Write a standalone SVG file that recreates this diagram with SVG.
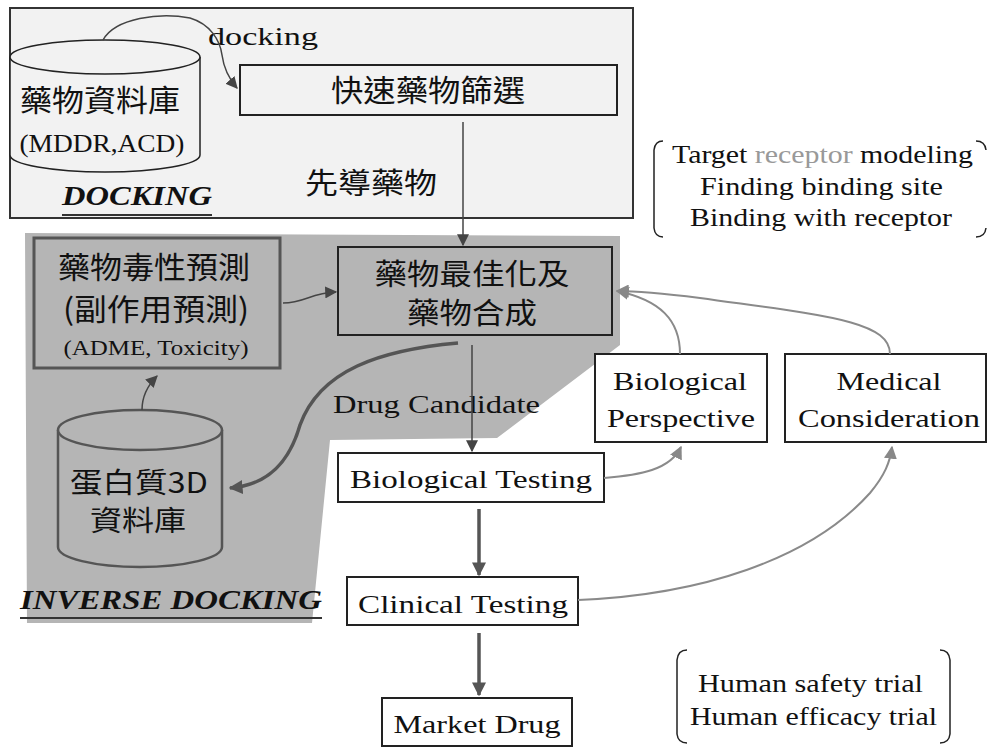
<svg xmlns="http://www.w3.org/2000/svg" width="988" height="747" viewBox="0 0 988 747">
<defs>
<marker id="aDark" viewBox="0 0 10 10" refX="9" refY="5" markerWidth="12" markerHeight="12" markerUnits="userSpaceOnUse" orient="auto"><path d="M0,0 L10,5 L0,10 z" fill="#444"/></marker>
<marker id="aGray" viewBox="0 0 10 10" refX="9" refY="5" markerWidth="13" markerHeight="13" markerUnits="userSpaceOnUse" orient="auto"><path d="M0,0 L10,5 L0,10 z" fill="#888"/></marker>
<marker id="aThick" viewBox="0 0 10 10" refX="9" refY="5" markerWidth="14" markerHeight="14" markerUnits="userSpaceOnUse" orient="auto"><path d="M0,0 L10,5 L0,10 z" fill="#555"/></marker>
<style>
.lat{font-family:"Liberation Serif","Noto Serif CJK TC",serif;fill:#111}
.cjk{font-family:"Noto Sans CJK TC","Noto Sans CJK SC",sans-serif;fill:#111}
.box{fill:#fff;stroke:#222;stroke-width:2}
.ttl{font-family:"Liberation Serif",serif;font-weight:bold;font-style:italic;fill:#111}
.dk{fill:none;stroke:#444;stroke-width:1.5}
.gr{fill:none;stroke:#8a8a8a;stroke-width:2}
.th{fill:none;stroke:#555;stroke-width:3.5}
</style>
</defs>
<rect width="988" height="747" fill="#fff"/>

<g id="docking-region">
<rect x="10" y="8" width="623" height="210" fill="#f2f2f2" stroke="#333" stroke-width="2"/>
<text class="ttl" x="62" y="205" font-size="27" textLength="150" lengthAdjust="spacingAndGlyphs">DOCKING</text>
<line x1="62" y1="215" x2="212" y2="215" stroke="#333" stroke-width="2"/>
</g>

<g id="inverse-region">
<polygon points="25,233 620,236 620,345 497,438 330,440 312,623 27,623" fill="#b5b5b5"/>
<text class="ttl" x="20" y="609" font-size="27" textLength="302" lengthAdjust="spacingAndGlyphs">INVERSE DOCKING</text>
<line x1="20" y1="618" x2="322" y2="618" stroke="#333" stroke-width="2"/>
</g>

<g id="drug-db">
<path d="M10,57 L10,155 A95,17 0 0 0 200,155 L200,57" fill="#f2f2f2" stroke="#222" stroke-width="1.5"/>
<ellipse cx="105" cy="57" rx="95" ry="17" fill="#f2f2f2" stroke="#222" stroke-width="1.5"/>
<text class="cjk" x="100" y="111" font-size="30" text-anchor="middle" textLength="160" lengthAdjust="spacingAndGlyphs">藥物資料庫</text>
<text class="lat" x="102" y="152" font-size="26" text-anchor="middle" textLength="165" lengthAdjust="spacingAndGlyphs">(MDDR,ACD)</text>
</g>

<g id="screening">
<rect x="240" y="65" width="377" height="50" fill="#f2f2f2" stroke="#222" stroke-width="2"/>
<text class="cjk" x="428" y="101" font-size="30" text-anchor="middle" textLength="194" lengthAdjust="spacingAndGlyphs">快速藥物篩選</text>
</g>

<g id="lead-label">
<text class="cjk" x="305" y="194" font-size="29" textLength="132" lengthAdjust="spacingAndGlyphs">先導藥物</text>
</g>

<g id="docking-label">
<text class="lat" x="208" y="45" font-size="26" textLength="110" lengthAdjust="spacingAndGlyphs">docking</text>
</g>

<g id="optimization">
<rect x="338" y="247" width="274" height="88" fill="#b5b5b5" stroke="#222" stroke-width="2"/>
<text class="cjk" x="472" y="285" font-size="29" text-anchor="middle" textLength="195" lengthAdjust="spacingAndGlyphs">藥物最佳化及</text>
<text class="cjk" x="472" y="324" font-size="29" text-anchor="middle" textLength="130" lengthAdjust="spacingAndGlyphs">藥物合成</text>
</g>

<g id="toxicity">
<rect x="34" y="238" width="246" height="130" fill="#b5b5b5" stroke="#555" stroke-width="3"/>
<text class="cjk" x="154" y="278" font-size="30" text-anchor="middle" textLength="192" lengthAdjust="spacingAndGlyphs">藥物毒性預測</text>
<text class="cjk" x="156" y="320" font-size="30" text-anchor="middle" textLength="186" lengthAdjust="spacingAndGlyphs">(副作用預測)</text>
<text class="lat" x="156" y="355" font-size="21" text-anchor="middle" textLength="185" lengthAdjust="spacingAndGlyphs">(ADME, Toxicity)</text>
</g>

<g id="protein-db">
<path d="M58,430 L58,547 A82,20 0 0 0 222,547 L222,430" fill="#b5b5b5" stroke="#555" stroke-width="2.5"/>
<ellipse cx="140" cy="430" rx="82" ry="20" fill="#b5b5b5" stroke="#555" stroke-width="2.5"/>
<text class="cjk" x="139" y="493" font-size="28" text-anchor="middle" textLength="138" lengthAdjust="spacingAndGlyphs">蛋白質3D</text>
<text class="cjk" x="138" y="531" font-size="28" text-anchor="middle" textLength="96" lengthAdjust="spacingAndGlyphs">資料庫</text>
</g>

<g id="drug-candidate-label">
<text class="lat" x="333" y="413" font-size="25" textLength="207" lengthAdjust="spacingAndGlyphs">Drug Candidate</text>
</g>

<g id="bio-testing">
<rect x="338" y="453" width="266" height="49" class="box"/>
<text class="lat" x="471" y="488" font-size="26" text-anchor="middle" textLength="242" lengthAdjust="spacingAndGlyphs">Biological Testing</text>
</g>

<g id="clinical-testing">
<rect x="347" y="577" width="231" height="48" class="box"/>
<text class="lat" x="463" y="613" font-size="26" text-anchor="middle" textLength="210" lengthAdjust="spacingAndGlyphs">Clinical Testing</text>
</g>

<g id="market-drug">
<rect x="382" y="698" width="190" height="48" class="box"/>
<text class="lat" x="477" y="733" font-size="26" text-anchor="middle" textLength="167" lengthAdjust="spacingAndGlyphs">Market Drug</text>
</g>

<g id="bio-perspective">
<rect x="595" y="354" width="172" height="88" class="box"/>
<text class="lat" x="680" y="390" font-size="26" text-anchor="middle" textLength="134" lengthAdjust="spacingAndGlyphs">Biological</text>
<text class="lat" x="681" y="427" font-size="26" text-anchor="middle" textLength="148" lengthAdjust="spacingAndGlyphs">Perspective</text>
</g>

<g id="medical">
<rect x="785" y="354" width="201" height="88" class="box"/>
<text class="lat" x="889" y="390" font-size="26" text-anchor="middle" textLength="105" lengthAdjust="spacingAndGlyphs">Medical</text>
<text class="lat" x="889" y="427" font-size="26" text-anchor="middle" textLength="182" lengthAdjust="spacingAndGlyphs">Consideration</text>
</g>

<g id="target-note">
<path d="M663,141 Q655,141 654,150 L654,228 Q655,237 663,237" fill="none" stroke="#222" stroke-width="1.5"/>
<path d="M976,141 Q985,141 986,150 M986,228 Q985,237 976,237" fill="none" stroke="#222" stroke-width="1.5"/>
<text class="lat" x="672" y="163" font-size="26" textLength="301" lengthAdjust="spacingAndGlyphs">Target <tspan fill="#999">receptor</tspan> modeling</text>
<text class="lat" x="700" y="195" font-size="26" textLength="243" lengthAdjust="spacingAndGlyphs">Finding binding site</text>
<text class="lat" x="690" y="226" font-size="26" textLength="262" lengthAdjust="spacingAndGlyphs">Binding with receptor</text>
</g>

<g id="human-note">
<path d="M687,650 Q678,650 677,660 L677,734 Q678,743 687,743" fill="none" stroke="#222" stroke-width="1.5"/>
<path d="M940,650 Q949,650 950,660 L950,734 Q949,743 940,743" fill="none" stroke="#222" stroke-width="1.5"/>
<text class="lat" x="698" y="692" font-size="26" textLength="225" lengthAdjust="spacingAndGlyphs">Human safety trial</text>
<text class="lat" x="690" y="725" font-size="26" textLength="247" lengthAdjust="spacingAndGlyphs">Human efficacy trial</text>
</g>

<g id="connectors">
<path class="dk" d="M103,40 C115,18 160,12 190,18 C210,24 220,40 222,55 C224,70 230,80 237,88" marker-end="url(#aDark)"/>
<line class="dk" x1="463" y1="122" x2="463" y2="245" marker-end="url(#aDark)"/>
<path class="dk" d="M283,303 C305,303 310,293 336,292" stroke="#444" stroke-width="2" marker-end="url(#aDark)"/>
<path class="dk" d="M142,410 C142,395 148,385 157,376" stroke="#555" stroke-width="2.5" marker-end="url(#aDark)"/>
<path class="th" d="M458,343 C380,350 320,370 300,425 C290,460 270,485 230,488" marker-end="url(#aThick)"/>
<line class="dk" x1="472" y1="345" x2="472" y2="451" marker-end="url(#aDark)"/>
<line x1="479" y1="509" x2="479" y2="575" stroke="#555" stroke-width="3.5" marker-end="url(#aThick)"/>
<line x1="479" y1="633" x2="479" y2="695" stroke="#555" stroke-width="3.5" marker-end="url(#aThick)"/>
<path class="gr" d="M680,354 C680,320 660,300 617,291" marker-end="url(#aGray)"/>
<path class="gr" d="M890,354 C890,320 820,315 700,298 C660,293 640,291 617,291" marker-end="url(#aGray)"/>
<path class="gr" d="M604,478 C640,475 670,470 681,447" marker-end="url(#aGray)"/>
<path class="gr" d="M578,600 C700,595 810,560 870,493 C885,475 890,462 892,447" marker-end="url(#aGray)"/>
</g>
</svg>
